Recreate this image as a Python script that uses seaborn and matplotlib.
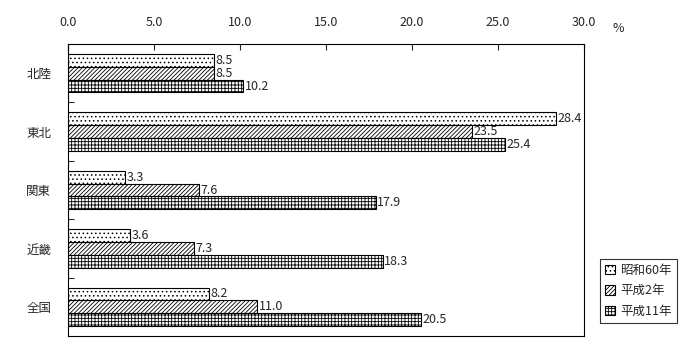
import pandas as pd
import numpy as np
import matplotlib
matplotlib.use('Agg')
import matplotlib.pyplot as plt
import seaborn as sns
from matplotlib.patches import Patch

# データ
regions = ['北陸', '東北', '関東', '近畿', '全国']
years = ['昭和60年', '平成2年', '平成11年']
s60 = [8.5, 28.4, 3.3, 3.6, 8.2]
h2 = [8.5, 23.5, 7.6, 7.3, 11.0]
h11 = [10.2, 25.4, 17.9, 18.3, 20.5]
xticks = [0, 5, 10, 15, 20, 25, 30]

df = pd.DataFrame({
    'region': regions * 3,
    'year': [years[0]] * 5 + [years[1]] * 5 + [years[2]] * 5,
    'value': s60 + h2 + h11,
})

sns.set_style('white')
plt.rcParams['font.family'] = ['Noto Sans CJK JP', 'DejaVu Sans']
plt.rcParams['hatch.linewidth'] = 0.6

fig = plt.figure(figsize=(7, 3.6), dpi=100)
ax = fig.add_axes([68 / 700, 1 - 336 / 360, 516 / 700, 292 / 360])

sns.barplot(data=df, y='region', x='value', hue='year', order=regions,
            hue_order=years, orient='h', width=0.66, ax=ax, legend=False)

hatches = ['....', '////////', '+++++']
for cont, h in zip(ax.containers, hatches):
    for bar in cont:
        bar.set_facecolor('white')
        bar.set_edgecolor('black')
        bar.set_linewidth(0.8)
        bar.set_hatch(h)
    ax.bar_label(cont, fmt='%.1f', padding=1, fontsize=9)

ax.set_xlim(0, 30)
ax.set_ylim(4.5, -0.5)
ax.xaxis.tick_top()
ax.set_xticks(xticks)
ax.set_xticklabels(['%.1f' % t for t in xticks], fontsize=9)
ax.tick_params(axis='x', direction='in', length=4, width=0.8, pad=11, top=True)
ax.set_yticks(range(len(regions)))
ax.set_yticklabels(regions, fontsize=9)
ax.tick_params(axis='y', length=0, pad=12)
ax.set_yticks(np.arange(0.5, 4.5, 1), minor=True)
ax.tick_params(axis='y', which='minor', direction='in', length=4, width=0.8, left=True)
ax.set_xlabel('')
ax.set_ylabel('')
for sp in ax.spines.values():
    sp.set_color('black')
    sp.set_linewidth(0.8)

fig.text(618 / 700, 1 - 28 / 360, '%', fontsize=9, ha='center', va='center')

handles = [Patch(facecolor='white', edgecolor='black', hatch=h, linewidth=0.8) for h in hatches]
leg = fig.legend(handles, years, loc='lower left', bbox_to_anchor=(594 / 700, 1 - 329 / 360),
                 fontsize=9, frameon=True, fancybox=False, handlelength=0.8,
                 handleheight=0.8, handletextpad=0.4, labelspacing=0.6, borderpad=0.4)
leg.get_frame().set_edgecolor('black')
leg.get_frame().set_linewidth(0.8)

fig.savefig('out.png', dpi=100)
